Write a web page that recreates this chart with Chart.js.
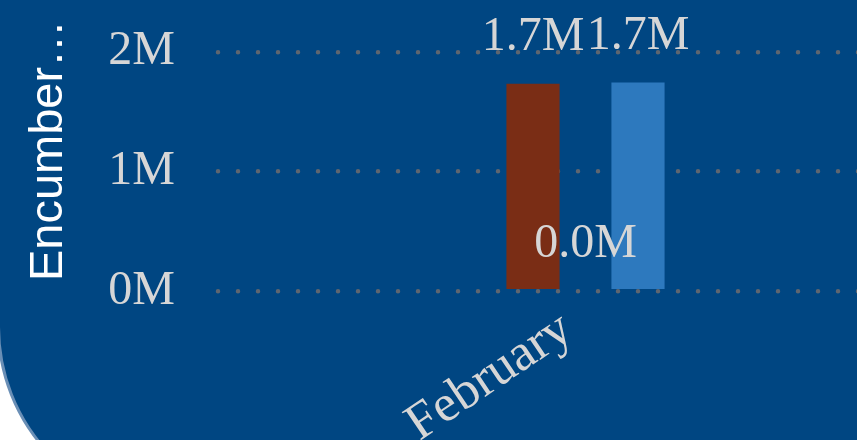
<!DOCTYPE html>
<html>
<head>
<meta charset="utf-8">
<script src="https://cdn.jsdelivr.net/npm/chart.js@4.4.1/dist/chart.umd.min.js"></script>
<style>
  html, body { margin: 0; padding: 0; background: #ffffff; overflow: hidden; width: 857px; height: 440px; }
  #frame {
    position: absolute; left: -3px; top: -3px;
    width: 1000px; height: 509px;
    border: 3px solid #6a8fb6;
    border-bottom-left-radius: 185px;
    background: #004682;
    overflow: hidden;
  }
  canvas { position: absolute; left: 0; top: 0; }
</style>
</head>
<body>
<div id="frame"><canvas id="c" width="1000" height="509"></canvas></div>
<script>
// ---- data ----
const categories = ["February"];
const seriesNames = ["Series 1", "Series 2", "Series 3"];
const seriesA = [1730000];
const seriesB = [0];
const seriesC = [1740000];
const yTickValues = [0, 1000000, 2000000];
const yTitle = "Encumber\u2026";

const serif = "'Liberation Serif', 'Times New Roman', serif";
const sans = "'Liberation Sans', Arial, sans-serif";
const textGray = "#d6d6d6";

const roundCap = {
  id: 'roundCap',
  beforeDraw(chart) { chart.ctx.lineCap = 'round'; }
};

const valueLabels = {
  id: 'valueLabels',
  afterDatasetsDraw(chart) {
    const ctx = chart.ctx;
    ctx.save();
    ctx.font = "48px " + serif;
    ctx.fillStyle = textGray;
    ctx.textAlign = 'center';
    ctx.textBaseline = 'alphabetic';
    chart.data.datasets.forEach((ds, i) => {
      const meta = chart.getDatasetMeta(i);
      meta.data.forEach((el, j) => {
        const v = ds.data[j];
        const txt = (v / 1e6).toFixed(1) + 'M';
        ctx.fillText(txt, el.x, el.y - 34);
      });
    });
    ctx.restore();
  }
};

new Chart(document.getElementById('c'), {
  type: 'bar',
  data: {
    labels: categories,
    datasets: [
      { label: seriesNames[0], data: seriesA, backgroundColor: '#7a2d15', barThickness: 52.5 },
      { label: seriesNames[1], data: seriesB, backgroundColor: 'rgba(0,0,0,0)', barThickness: 52.5 },
      { label: seriesNames[2], data: seriesC, backgroundColor: '#2d79be', barThickness: 52.5 }
    ]
  },
  options: {
    responsive: false,
    animation: false,
    layout: { padding: { top: 10, right: 44, left: 0, bottom: 0 } },
    plugins: { legend: { display: false }, tooltip: { enabled: false } },
    scales: {
      x: {
        grid: { display: false, drawTicks: false },
        border: { display: false },
        ticks: {
          color: textGray,
          font: { family: serif, size: 52 },
          minRotation: 34, maxRotation: 34,
          padding: 8,
          labelOffset: -18
        },
        afterFit(s) { s.height = 218; s.paddingLeft = 0; s.paddingRight = 0; }
      },
      y: {
        min: 0,
        max: 2350000,
        afterBuildTicks(s) { s.ticks = yTickValues.map(v => ({ value: v })); },
        grid: { color: '#5f6670', lineWidth: 4.5, drawTicks: false },
        border: { display: false, dash: [0, 20], dashOffset: 17 },
        ticks: {
          color: textGray,
          font: { family: serif, size: 48 },
          padding: 40,
          callback: v => (v / 1e6) + 'M'
        },
        title: {
          display: true, text: yTitle, color: '#ffffff',
          font: { family: sans, size: 47 },
          padding: { top: 21, bottom: 0 }
        },
        afterFit(s) { s.width = 215; s.paddingTop = 0; s.paddingBottom = 0; }
      }
    }
  },
  plugins: [roundCap, valueLabels]
});
</script>
</body>
</html>
